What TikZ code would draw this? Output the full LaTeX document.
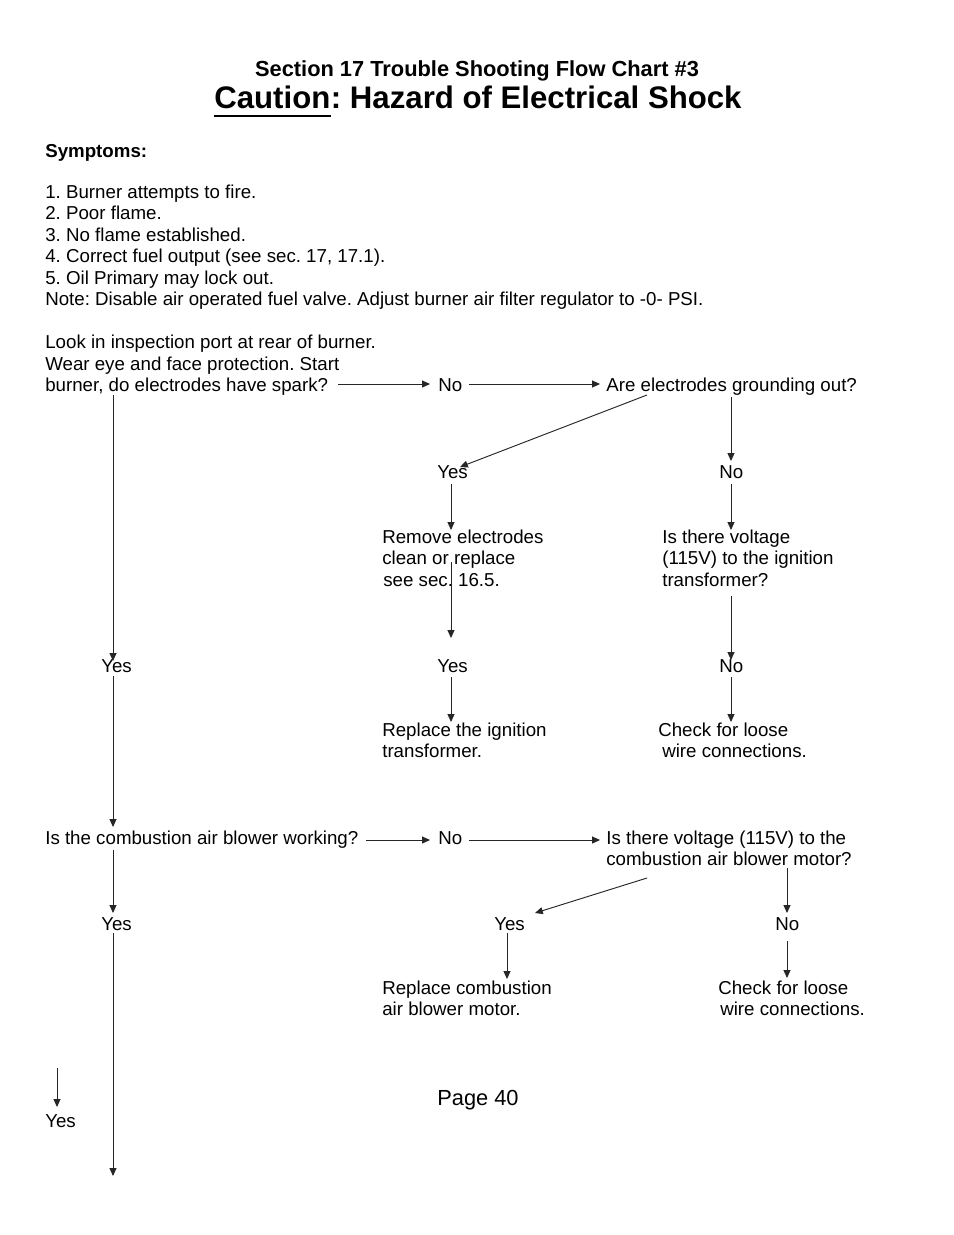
\documentclass[tikz,border=0pt]{standalone}
\usepackage{fontspec}
\setmainfont{Liberation Sans}
\usetikzlibrary{arrows.meta}
\AtBeginDocument{\frenchspacing}
\begin{document}
\begin{tikzpicture}[x=0.6415pt,y=-0.6415pt,
  txt/.style={anchor=base west,inner sep=0pt,font=\frenchspacing\fontsize{12pt}{13.8pt}\selectfont},
  btxt/.style={anchor=base west,inner sep=0pt,font=\frenchspacing\bfseries\fontsize{12pt}{13.8pt}\selectfont},
  arr/.style={draw=black!85,line width=0.6pt,-{Triangle[length=5pt,width=4.4pt]}}]
\useasboundingbox[fill=white] (0,0) rectangle (954,1235);

% titles
\node[anchor=base,inner sep=0pt,font=\frenchspacing\bfseries\fontsize{14pt}{16pt}\selectfont] (t1) at (477,76) {Section 17 Trouble Shooting Flow Chart \#3};
\node[anchor=base west,inner sep=0pt,font=\frenchspacing\bfseries\fontsize{20pt}{24pt}\selectfont] (cau) at (214,108) {Caution};
\node[anchor=base west,inner sep=0pt,font=\frenchspacing\bfseries\fontsize{20pt}{24pt}\selectfont] (haz) at (cau.base east) {: Hazard of Electrical Shock};
\draw[line width=1.6pt] ([yshift=-5.1pt]cau.base west) -- ([yshift=-5.1pt]cau.base east);

% symptoms
\node[btxt] (sym) at (45,157) {Symptoms:};
\node[txt] (s1) at (45,198) {1. Burner attempts to fire.};
\node[txt] (s2) at (45,219.5) {2. Poor flame.};
\node[txt] (s3) at (45,241) {3. No flame established.};
\node[txt] (s4) at (45,262.5) {4. Correct fuel output (see sec. 17, 17.1).};
\node[txt] (s5) at (45,284) {5. Oil Primary may lock out.};
\node[txt] (note) at (45,305.5) {Note: Disable air operated fuel valve. Adjust burner air filter regulator to -0- PSI.};

% first question
\node[txt] (q1a) at (45,348.5) {Look in inspection port at rear of burner.};
\node[txt] (q1b) at (45,370) {Wear eye and face protection. Start};
\node[txt] (q1c) at (45,391.5) {burner, do electrodes have spark?};
\node[txt] (no1) at (438,391.5) {No};
\node[txt] (gnd) at (606,391.5) {Are electrodes grounding out?};
\node[txt] (yes1) at (437,478) {Yes};
\node[txt] (no2) at (719,478) {No};
\node[txt] (rem1) at (382,543) {Remove electrodes};
\node[txt] (rem2) at (382,564.5) {clean or replace};
\node[txt] (rem3) at (383,586) {see sec. 16.5.};
\node[txt] (vi1) at (662,543) {Is there voltage};
\node[txt] (vi2) at (662,564.5) {(115V) to the ignition};
\node[txt] (vi3) at (662,586) {transformer?};
\node[txt] (yes2) at (437,672) {Yes};
\node[txt] (no3) at (719,672) {No};
\node[txt] (yes3) at (101,672) {Yes};
\node[txt] (rit1) at (382,736) {Replace the ignition};
\node[txt] (rit2) at (382,757.5) {transformer.};
\node[txt] (chk1) at (658,736) {Check for loose};
\node[txt] (chk2) at (662,757.5) {wire connections.};

% second question
\node[txt] (q2) at (45,844) {Is the combustion air blower working?};
\node[txt] (no4) at (438,844) {No};
\node[txt] (vb1) at (606,844) {Is there voltage (115V) to the};
\node[txt] (vb2) at (606,865.5) {combustion air blower motor?};
\node[txt] (yes4) at (101,930) {Yes};
\node[txt] (yes5) at (494,930) {Yes};
\node[txt] (no5) at (775,930) {No};
\node[txt] (rbm1) at (382,994) {Replace combustion};
\node[txt] (rbm2) at (382,1015.5) {air blower motor.};
\node[txt] (chk3) at (718,994) {Check for loose};
\node[txt] (chk4) at (720,1015.5) {wire connections.};
\node[txt] (yes6) at (45,1127) {Yes};
\node[anchor=base west,inner sep=0pt,font=\fontsize{14pt}{16pt}\selectfont] (page) at (437,1105) {Page 40};

% connector end points
\coordinate (a1s) at (338,384);  \coordinate (a1e) at (430,384);
\coordinate (a2s) at (469,384);  \coordinate (a2e) at (600,384);
\coordinate (a3s) at (647,395);  \coordinate (a3e) at (460,467);
\coordinate (a4s) at (731,397);  \coordinate (a4e) at (731,461);
\coordinate (a5s) at (451,484);  \coordinate (a5e) at (451,530);
\coordinate (a6s) at (451,562);  \coordinate (a6e) at (451,638);
\coordinate (a7s) at (451,677);  \coordinate (a7e) at (451,722);
\coordinate (a8s) at (731,484);  \coordinate (a8e) at (731,530);
\coordinate (a9s) at (731,596);  \coordinate (a9e) at (731,660);
\coordinate (a10s) at (731,677); \coordinate (a10e) at (731,722);
\coordinate (a11s) at (113,395); \coordinate (a11e) at (113,661);
\coordinate (a12s) at (113,676); \coordinate (a12e) at (113,827);
\coordinate (a13s) at (366,840); \coordinate (a13e) at (430,840);
\coordinate (a14s) at (469,840); \coordinate (a14e) at (600,840);
\coordinate (a15s) at (113,850); \coordinate (a15e) at (113,913);
\coordinate (a16s) at (113,933); \coordinate (a16e) at (113,1176);
\coordinate (a17s) at (647,878); \coordinate (a17e) at (535,913);
\coordinate (a18s) at (507,933); \coordinate (a18e) at (507,979);
\coordinate (a19s) at (787,868); \coordinate (a19e) at (787,913);
\coordinate (a20s) at (787,941); \coordinate (a20e) at (787,978);
\coordinate (a21s) at (57,1068); \coordinate (a21e) at (57,1107);

\foreach \i in {1,...,21} \draw[arr] (a\i s) -- (a\i e);
\end{tikzpicture}
\end{document}
